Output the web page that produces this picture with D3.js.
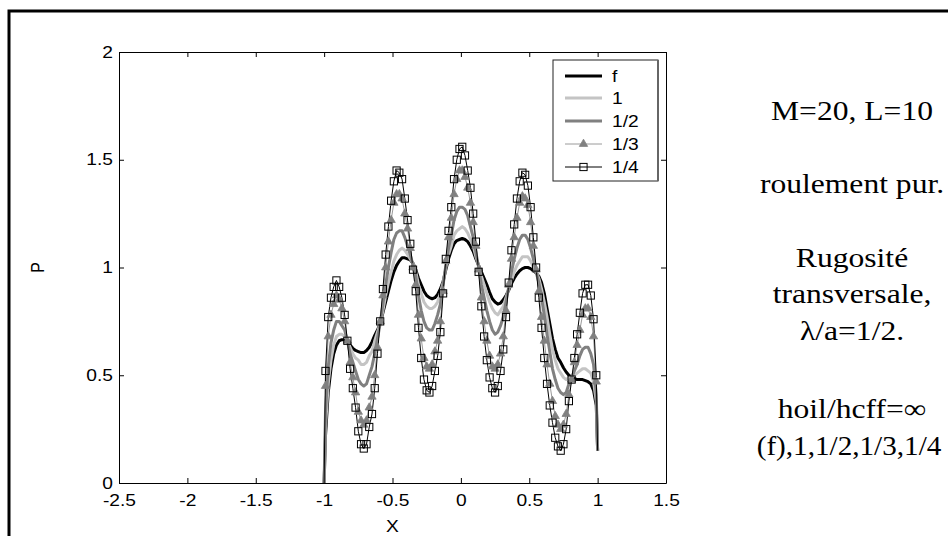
<!DOCTYPE html>
<html><head><meta charset="utf-8">
<script src="https://cdn.jsdelivr.net/npm/d3@7"></script>
<style>body{margin:0;background:#fff}svg{display:block}</style>
</head><body>
<svg id="c" width="948" height="536"></svg>
<script>
const xs = [-1,-0.99,-0.97,-0.95,-0.93,-0.91,-0.89,-0.87,-0.85,-0.83,-0.81,-0.79,-0.77,-0.75,-0.73,-0.71,-0.69,-0.67,-0.65,-0.63,-0.61,-0.59,-0.57,-0.55,-0.53,-0.51,-0.49,-0.47,-0.45,-0.43,-0.41,-0.39,-0.37,-0.35,-0.33,-0.31,-0.29,-0.27,-0.25,-0.23,-0.21,-0.19,-0.17,-0.15,-0.13,-0.11,-0.09,-0.07,-0.05,-0.03,-0.01,0.01,0.03,0.05,0.07,0.09,0.11,0.13,0.15,0.17,0.19,0.21,0.23,0.25,0.27,0.29,0.31,0.33,0.35,0.37,0.39,0.41,0.43,0.45,0.47,0.49,0.51,0.53,0.55,0.57,0.59,0.61,0.63,0.65,0.67,0.69,0.71,0.73,0.75,0.77,0.79,0.81,0.83,0.85,0.87,0.89,0.91,0.93,0.95,0.97,0.99,1];
const pF = [0,
 .22,.42,.53,.60,.64,.66,.665,.665,.655,.64,.625,.615,.61,.605,.605,.615,.63,.655,.685,.71,
 .74,.79,.84,.89,.94,.98,1.01,1.03,1.045,1.045,1.04,1.035,1.02,.99,.95,.92,.89,.87,.86,.855,
 .86,.875,.90,.935,.99,1.04,1.08,1.11,1.125,1.13,
 1.135,1.13,1.12,1.10,1.075,1.04,1.01,.98,.95,.92,.885,.855,.84,.83,.835,.85,.87,.895,.925,.95,
 .97,.985,.995,1.0,1.0,.995,.985,.975,.96,.93,.88,.81,.74,.67,.62,.58,.56,.535,.515,.50,
 .49,.485,.48,.48,.48,.475,.47,.46,.43,.36,
 .15];
const p1 = [0,
 .26,.46,.57,.64,.68,.69,.69,.68,.66,.63,.60,.58,.57,.55,.55,.56,.59,.61,.66,.70,
 .74,.80,.87,.93,.98,1.03,1.06,1.08,1.09,1.08,1.06,1.04,1.02,.98,.92,.88,.84,.82,.81,.81,
 .82,.84,.88,.93,1.0,1.06,1.10,1.15,1.17,1.18,
 1.19,1.18,1.16,1.13,1.10,1.05,1.01,.96,.92,.88,.84,.81,.79,.78,.80,.82,.86,.90,.94,.98,
 1.01,1.03,1.05,1.05,1.05,1.03,1.0,.98,.95,.90,.84,.77,.69,.62,.57,.53,.51,.49,.48,.49,
 .49,.50,.51,.52,.53,.53,.52,.51,.47,.38,
 .15];
const p12 = [0,
 .33,.54,.65,.71,.75,.75,.73,.71,.66,.60,.56,.52,.48,.46,.45,.46,.50,.54,.60,.67,
 .74,.83,.92,1.0,1.07,1.13,1.16,1.17,1.17,1.14,1.10,1.06,1.01,.96,.87,.80,.75,.72,.71,.71,
 .74,.78,.83,.92,1.01,1.09,1.15,1.22,1.26,1.28,
 1.28,1.27,1.24,1.19,1.14,1.07,1.0,.92,.86,.80,.75,.71,.69,.70,.73,.77,.84,.91,.98,1.04,
 1.09,1.13,1.15,1.15,1.13,1.09,1.04,.98,.93,.86,.78,.69,.61,.53,.48,.44,.42,.41,.42,.46,
 .49,.52,.55,.59,.62,.63,.63,.60,.55,.41,
 .15];
const p13 = [0,
 .45,.68,.78,.83,.87,.85,.81,.75,.66,.56,.49,.42,.33,.29,.27,.29,.35,.40,.50,.63,
 .75,.87,1.0,1.12,1.22,1.30,1.34,1.34,1.32,1.25,1.18,1.09,1.0,.92,.78,.67,.58,.54,.53,.55,
 .61,.66,.75,.89,1.03,1.14,1.23,1.34,1.41,1.45,
 1.45,1.42,1.37,1.30,1.21,1.10,.99,.86,.75,.66,.59,.54,.53,.55,.60,.68,.80,.92,1.04,1.14,
 1.23,1.30,1.33,1.32,1.29,1.21,1.10,.99,.89,.77,.66,.55,.46,.38,.31,.27,.25,.27,.32,.41,
 .48,.56,.64,.71,.78,.81,.81,.77,.68,.47,
 .15];
const p14 = [0,
 .52,.77,.86,.91,.94,.91,.86,.78,.66,.53,.44,.35,.24,.18,.16,.18,.26,.32,.44,.60,
 .75,.90,1.06,1.19,1.31,1.40,1.45,1.44,1.41,1.32,1.22,1.11,.99,.89,.72,.58,.48,.43,.42,.45,
 .52,.59,.70,.88,1.04,1.17,1.28,1.41,1.50,1.55,
 1.56,1.52,1.45,1.37,1.25,1.12,.98,.82,.68,.57,.49,.44,.42,.45,.52,.62,.77,.93,1.08,1.20,
 1.32,1.40,1.44,1.43,1.38,1.28,1.14,1.00,.86,.72,.58,.46,.36,.28,.21,.17,.15,.18,.25,.38,
 .48,.58,.69,.79,.88,.92,.92,.87,.76,.50,
 .15];
const seriesNames = ['f','1','1/2','1/3','1/4'];
const xTicks = [-2.5,-2,-1.5,-1,-0.5,0,0.5,1,1.5];
const yTicks = [0,0.5,1,1.5,2];
const xTitle = 'X', yTitle = 'P';
const notes = ['M=20, L=10','roulement pur.','Rugosité','transversale,','λ/a=1/2.','hoil/hcff=∞','(f),1,1/2,1/3,1/4'];

(function(){
const styles = [
  {stroke:'#000', w:3},
  {stroke:'#c4c4c4', w:3},
  {stroke:'#808080', w:3},
  {stroke:'#9a9a9a', w:1, marker:'tri'},
  {stroke:'#000', w:1, marker:'sq'}
];
const seriesVals = [pF,p1,p12,p13,p14];

const svg = d3.select('#c');
const SX = 1.2; // horizontal stretch of glyphs
const aL=119, aR=666, aT=52, aB=483;
const x = d3.scaleLinear().domain([-2.5,1.5]).range([aL,aR]);
const y = d3.scaleLinear().domain([0,2]).range([aB,aT]);

// outer frame
svg.append('rect').attr('x',9).attr('y',11).attr('width',1000).attr('height',600)
  .attr('fill','none').attr('stroke','#000').attr('stroke-width',3);

const fmt = d=>String(d);
function styleAxis(g){
  g.selectAll('.domain').attr('stroke','#000');
  g.selectAll('.tick line').attr('stroke','#000');
}
const gB = svg.append('g').attr('transform',`translate(0,${aB})`)
  .call(d3.axisBottom(x).tickValues(xTicks).tickFormat(fmt).tickSizeInner(-5).tickSizeOuter(0).tickPadding(12));
const gT = svg.append('g').attr('transform',`translate(0,${aT})`)
  .call(d3.axisTop(x).tickValues(xTicks).tickFormat('').tickSizeInner(-5).tickSizeOuter(0));
const gL = svg.append('g').attr('transform',`translate(${aL},0)`)
  .call(d3.axisLeft(y).tickValues(yTicks).tickFormat(fmt).tickSizeInner(-5).tickSizeOuter(0).tickPadding(6));
const gR = svg.append('g').attr('transform',`translate(${aR},0)`)
  .call(d3.axisRight(y).tickValues(yTicks).tickFormat('').tickSizeInner(-5).tickSizeOuter(0));
[gB,gT,gL,gR].forEach(styleAxis);
[gB,gL].forEach(g=>g.selectAll('text').attr('font-family','"Liberation Sans",Arial,sans-serif')
  .attr('font-size',16).attr('fill','#000').attr('transform',`scale(${SX},1)`));
gL.selectAll('text').attr('x',-6/SX);

function stext(px,py,str,opt){
  return svg.append('text').attr('transform',`translate(${px},${py}) scale(${opt.sx||SX},1)`)
    .attr('text-anchor',opt.anchor||'start').attr('font-family',opt.family||'"Liberation Sans",Arial,sans-serif')
    .attr('font-size',opt.size||16).attr('fill','#000').text(str);
}
stext((aL+aR)/2, 532, xTitle, {anchor:'middle'});
svg.append('text').attr('transform',`translate(44,${(aT+aB)/2}) rotate(-90) scale(1,${SX})`)
  .attr('text-anchor','middle').attr('font-family','"Liberation Sans",Arial,sans-serif')
  .attr('font-size',16).text(yTitle);

// curves
const plot = svg.append('g');
const line = d3.line().x((d,i)=>x(xs[i])).y(d=>y(d));
seriesVals.forEach((vals,k)=>{
  const st = styles[k];
  plot.append('path').datum(vals).attr('d',line).attr('fill','none')
    .attr('stroke',st.stroke).attr('stroke-width',st.w).attr('stroke-linejoin','round');
});
const tri = d3.symbol().type(d3.symbolTriangle).size(30);
function drawMarker(g,type,cx,cy){
  if(type==='tri'){
    g.append('path').attr('d',tri()).attr('transform',`translate(${cx},${cy})`).attr('fill','#808080').attr('stroke','#808080').attr('stroke-width',0.8);
  } else {
    g.append('rect').attr('x',cx-3.6).attr('y',cy-3.6).attr('width',7.2).attr('height',7.2)
      .attr('fill','none').attr('stroke','#000').attr('stroke-width',1);
  }
}
[3,4].forEach(k=>{
  const vals = seriesVals[k];
  vals.forEach((v,i)=>{
    if(i===0||i===vals.length-1) return;
    drawMarker(plot, styles[k].marker, x(xs[i]), y(v));
  });
});

// legend
const lg = svg.append('g');
lg.append('rect').attr('x',553).attr('y',60).attr('width',105).attr('height',121)
  .attr('fill','#fff').attr('stroke','#222').attr('stroke-width',1);
lg.append('line').attr('x1',658).attr('x2',658).attr('y1',60).attr('y2',181).attr('stroke','#666').attr('stroke-width',2);
const rowY = [76,98,121,144,167];
seriesNames.forEach((nm,k)=>{
  const st = styles[k], yy = rowY[k];
  lg.append('line').attr('x1',565).attr('x2',602).attr('y1',yy).attr('y2',yy)
    .attr('stroke',st.stroke).attr('stroke-width',st.w);
  if(st.marker) drawMarker(lg, st.marker, 583.5, yy);
  lg.append('text').attr('transform',`translate(612,${yy+6}) scale(${SX},1)`)
    .attr('font-family','"Liberation Sans",Arial,sans-serif').attr('font-size',16).text(nm);
});

// annotations
const noteY = [120,193,267,303,340,418,455];
notes.forEach((s,i)=>{
  const last = i === notes.length-1;
  stext(last ? 849 : 852, noteY[i], s, {anchor:'middle', family:'"Liberation Serif","Times New Roman",serif', size:27, sx: last ? 1.08 : 1.17});
});
})();
</script>
</body></html>
